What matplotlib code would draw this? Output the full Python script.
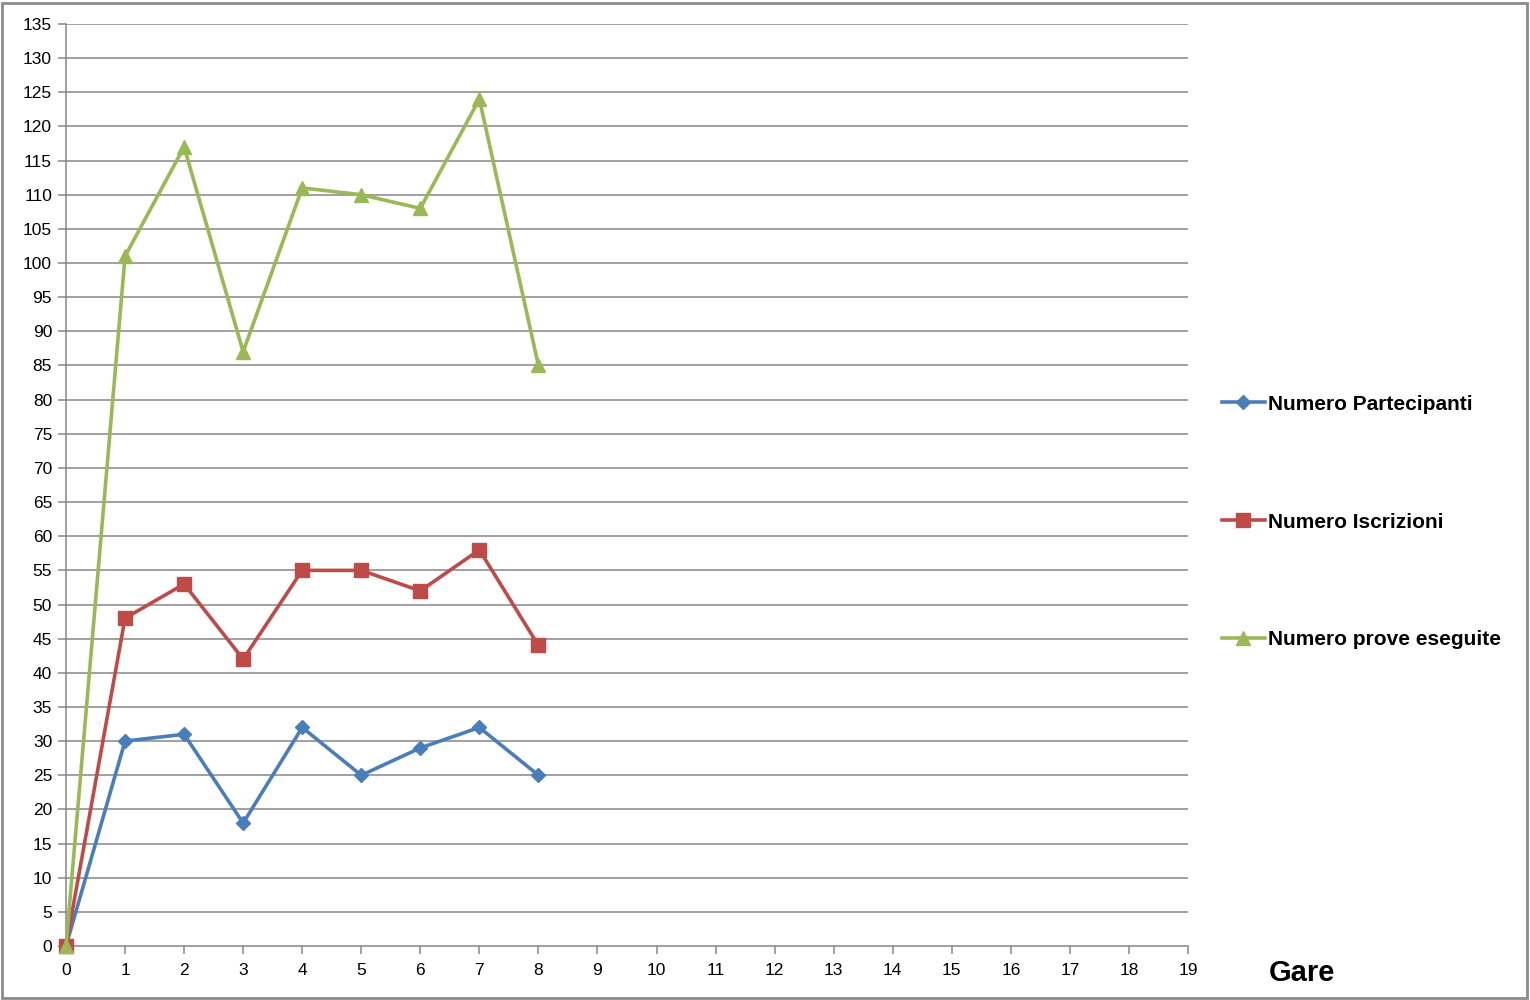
import numpy as np
import matplotlib.pyplot as plt
from matplotlib.patches import Rectangle

gare = [0, 1, 2, 3, 4, 5, 6, 7, 8]
partecipanti = [0, 30, 31, 18, 32, 25, 29, 32, 25]
iscrizioni = [0, 48, 53, 42, 55, 55, 52, 58, 44]
prove = [0, 101, 117, 87, 111, 110, 108, 124, 85]

x_ticks = list(range(0, 20))
y_ticks = list(range(0, 136, 5))

plt.rcParams['font.family'] = ['Liberation Sans', 'DejaVu Sans']

fig = plt.figure(figsize=(15.3, 10), dpi=100)
ax = fig.add_axes([66/1530, 54/1000, (1188-66)/1530, (946-24)/1000])

grid_col = '#868686'
for y in y_ticks[1:]:
    ax.axhline(y, color=grid_col, lw=1.1, zorder=0)

l1, = ax.plot(gare, partecipanti, color='#4A7EBB', lw=2.6, marker='D', ms=7,
              label='Numero Partecipanti', zorder=3, clip_on=False)
l2, = ax.plot(gare, iscrizioni, color='#BE4B48', lw=2.6, marker='s', ms=9.5,
              label='Numero Iscrizioni', zorder=3, clip_on=False)
l3, = ax.plot(gare, prove, color='#98B954', lw=2.6, marker='^', ms=10,
              label='Numero prove eseguite', zorder=3, clip_on=False)

ax.set_xlim(0, 19)
ax.set_ylim(0, 135)
ax.set_xticks(x_ticks)
ax.set_yticks(y_ticks)
for s in ['top', 'right']:
    ax.spines[s].set_visible(False)
ax.spines['left'].set_color(grid_col)
ax.spines['bottom'].set_color(grid_col)
ax.spines['left'].set_linewidth(1.1)
ax.spines['bottom'].set_linewidth(1.1)
ax.tick_params(axis='both', colors=grid_col, labelcolor='black',
               length=6, width=1.1)
ax.tick_params(axis='x', pad=6)
ax.tick_params(axis='y', pad=4)
for lab in ax.get_xticklabels() + ax.get_yticklabels():
    lab.set_fontsize(12.5)

fig.text(1302/1530, 1 - 973/1000, 'Gare', ha='center', va='center',
         fontsize=21, fontweight='bold')

leg = fig.legend(handles=[l1, l2, l3], loc='center left',
                 bbox_to_anchor=(1222/1530, 1 - 522/1000), frameon=False,
                 borderpad=0, borderaxespad=0,
                 labelspacing=4.75, handlelength=2.05, handletextpad=0.15,
                 prop={'weight': 'bold', 'size': 15})

fig.patches.append(Rectangle((2/1530, 2/1000), 1525/1530, 995/1000,
                             transform=fig.transFigure, fill=False,
                             edgecolor='#8c8c8c', lw=2))

fig.savefig('out.png', dpi=100)
